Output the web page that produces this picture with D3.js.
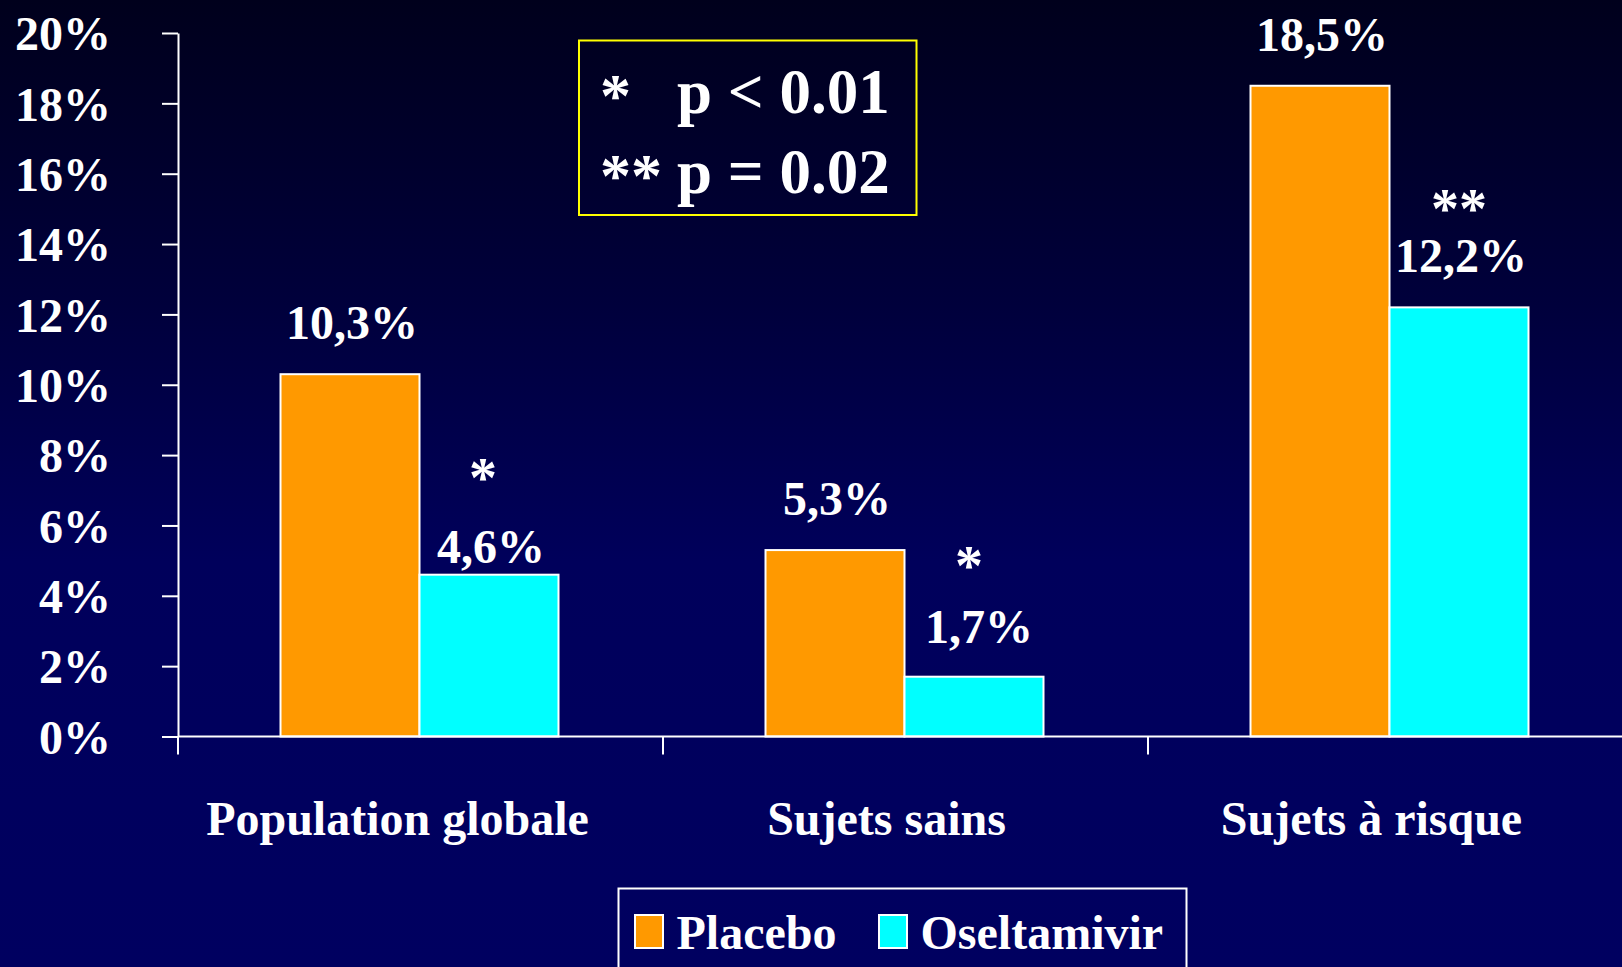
<!DOCTYPE html>
<html>
<head>
<meta charset="utf-8">
<script src="https://cdn.jsdelivr.net/npm/d3@7/dist/d3.min.js"></script>
<style>
  html, body { margin: 0; padding: 0; background: #000060; overflow: hidden; }
  svg { display: block; }
  text { font-family: "Liberation Serif", "Times New Roman", serif; font-weight: bold; fill: #ffffff; }
</style>
</head>
<body>
<svg id="chart" width="1622" height="967"></svg>
<script>
// ---- Data ----
const categories = ["Population globale", "Sujets sains", "Sujets à risque"];
const seriesNames = ["Placebo", "Oseltamivir"];
const placeboValues = [10.3, 5.3, 18.5];
const oseltamivirValues = [4.6, 1.7, 12.2];
const valueLabels = [["10,3%", "4,6%"], ["5,3%", "1,7%"], ["18,5%", "12,2%"]];
const sigMarks = [["", "*"], ["", "*"], ["", "**"]];
const yTicks = [0, 2, 4, 6, 8, 10, 12, 14, 16, 18, 20];
const noteSymbols = ["*", "**"];
const noteTexts = ["p < 0.01", "p = 0.02"];

// ---- Layout / style ----
const colors = { Placebo: "#ff9900", Oseltamivir: "#00ffff" };
const axisX = 178, y0 = 736.5, yTop = 33;
const bandW = 485;
const labelLift = [[35, 12], [35, 34], [35, 35]];
const labelDx = [[2, 2], [2, 5], [2, 2]];
const sigLift = [[0, 78], [0, 92], [0, 79]];
const sigDx = [[0, -6], [0, -5], [0, 0]];

const svg = d3.select("#chart");

// background gradient
const defs = svg.append("defs");
const grad = defs.append("linearGradient").attr("id", "bg").attr("x1", 0).attr("y1", 0).attr("x2", 0).attr("y2", 1);
grad.append("stop").attr("offset", "0%").attr("stop-color", "#00001c");
grad.append("stop").attr("offset", "30%").attr("stop-color", "#00003a");
grad.append("stop").attr("offset", "58%").attr("stop-color", "#00005b");
grad.append("stop").attr("offset", "100%").attr("stop-color", "#000060");
svg.append("rect").attr("width", 1622).attr("height", 967).attr("fill", "url(#bg)");

// scales
const x = d3.scaleBand().domain(categories).range([axisX, axisX + bandW * categories.length]).padding(0);
const xs = d3.scaleBand().domain(seriesNames).range([102.5, 380.5]).padding(0);
const y = d3.scaleLinear().domain([0, 20]).range([y0, yTop]);

const rows = categories.map((c, i) => ({
  cat: c, i,
  vals: [
    { s: "Placebo", v: placeboValues[i], label: valueLabels[i][0], sig: sigMarks[i][0], j: 0 },
    { s: "Oseltamivir", v: oseltamivirValues[i], label: valueLabels[i][1], sig: sigMarks[i][1], j: 1 }
  ]
}));

// bars
const groups = svg.selectAll("g.grp").data(rows).join("g").attr("class", "grp")
  .attr("transform", d => `translate(${x(d.cat)},0)`);

groups.selectAll("rect.bar").data(d => d.vals.map(v => Object.assign({ i: d.i }, v))).join("rect")
  .attr("class", "bar")
  .attr("x", d => xs(d.s))
  .attr("width", xs.bandwidth())
  .attr("y", d => y(d.v))
  .attr("height", d => y0 - y(d.v))
  .attr("fill", d => colors[d.s])
  .attr("stroke", "#ffffff")
  .attr("stroke-width", 2);

// value labels
groups.selectAll("text.val").data(d => d.vals.map(v => Object.assign({ i: d.i }, v))).join("text")
  .attr("class", "val")
  .attr("x", d => xs(d.s) + xs.bandwidth() / 2 + labelDx[d.i][d.j])
  .attr("y", d => y(d.v) - labelLift[d.i][d.j])
  .attr("text-anchor", "middle")
  .attr("font-size", 48)
  .text(d => d.label);

// significance marks
groups.selectAll("text.sig").data(d => d.vals.filter(v => v.sig).map(v => Object.assign({ i: d.i }, v))).join("text")
  .attr("class", "sig")
  .attr("x", d => xs(d.s) + xs.bandwidth() / 2 + sigDx[d.i][d.j])
  .attr("y", d => y(d.v) - sigLift[d.i][d.j])
  .attr("text-anchor", "middle")
  .attr("font-size", 56)
  .text(d => d.sig);

// y axis
const yAxis = svg.append("g").attr("transform", `translate(${axisX},0)`)
  .call(d3.axisLeft(y).tickValues(yTicks).tickSize(16).tickSizeOuter(0).tickPadding(51).tickFormat(d => d + "%"));
yAxis.select(".domain").attr("stroke", "#ffffff").attr("stroke-width", 2);
yAxis.selectAll(".tick line").attr("stroke", "#ffffff").attr("stroke-width", 2);
yAxis.selectAll(".tick text")
  .attr("font-size", 48)
  .attr("font-family", "'Liberation Serif', 'Times New Roman', serif")
  .attr("font-weight", "bold")
  .attr("fill", "#ffffff")
  .attr("dy", "0.35em");

// x axis line
svg.append("line").attr("x1", axisX).attr("x2", 1622).attr("y1", y0).attr("y2", y0)
  .attr("stroke", "#ffffff").attr("stroke-width", 2);

// category ticks at band boundaries
svg.selectAll("line.ctick").data(categories).join("line").attr("class", "ctick")
  .attr("x1", d => x(d)).attr("x2", d => x(d))
  .attr("y1", y0).attr("y2", y0 + 18)
  .attr("stroke", "#ffffff").attr("stroke-width", 2);

// category labels
svg.selectAll("text.cat").data(categories).join("text").attr("class", "cat")
  .attr("x", (d, i) => x(d) + x.bandwidth() / 2 - (i === 0 ? 23 : 19))
  .attr("y", 835)
  .attr("text-anchor", "middle")
  .attr("font-size", 48)
  .text(d => d);

// note box
svg.append("rect").attr("x", 579).attr("y", 40.5).attr("width", 337.5).attr("height", 174.5)
  .attr("fill", "none").attr("stroke", "#ffff00").attr("stroke-width", 2);
svg.selectAll("text.nsym").data(noteSymbols).join("text").attr("class", "nsym")
  .attr("x", 600).attr("y", (d, i) => 116 + i * 80)
  .attr("font-size", 62).text(d => d);
svg.selectAll("text.ntxt").data(noteTexts).join("text").attr("class", "ntxt")
  .attr("x", 677).attr("y", (d, i) => 113 + i * 80)
  .attr("font-size", 63).text(d => d);

// legend
svg.append("rect").attr("x", 618.5).attr("y", 888.5).attr("width", 568).attr("height", 100)
  .attr("fill", "none").attr("stroke", "#ffffff").attr("stroke-width", 2);
const legX = [635, 879];
const leg = svg.selectAll("g.leg").data(seriesNames).join("g").attr("class", "leg")
  .attr("transform", (d, i) => `translate(${legX[i]},0)`);
leg.append("rect").attr("x", 0).attr("y", 915).attr("width", 28).attr("height", 33)
  .attr("fill", d => colors[d]).attr("stroke", "#ffffff").attr("stroke-width", 2);
leg.append("text").attr("x", 41.5).attr("y", 949).attr("font-size", 48).text(d => d);
</script>
</body>
</html>
